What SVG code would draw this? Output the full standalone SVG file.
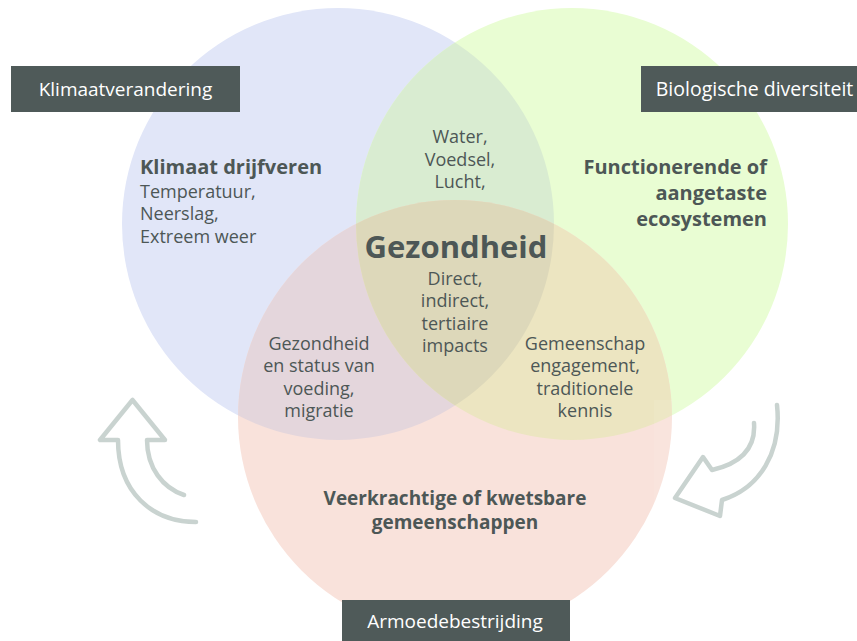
<svg xmlns="http://www.w3.org/2000/svg" width="857" height="641" viewBox="0 0 857 641">
<style>
.t{font-family:"Open Sans","Noto Sans","DejaVu Sans",sans-serif;fill:#4d5756;font-size:18px}
.b{font-weight:bold;font-size:20px}
.bs{font-weight:bold;font-size:19px}
.c{text-anchor:middle}
.r{text-anchor:end}
.box{fill:#4f5a59}
.lbl{font-family:"Open Sans","Noto Sans","DejaVu Sans",sans-serif;fill:#ffffff;font-size:19px;text-anchor:middle}
.arr{fill:none;stroke:#c9d3d0;stroke-width:4.5;stroke-linejoin:round;stroke-linecap:round}
</style>
<defs>
<clipPath id="cB"><circle cx="338" cy="224" r="216"/></clipPath>
<clipPath id="cG"><circle cx="572" cy="224" r="216"/></clipPath>
</defs>
<rect width="857" height="641" fill="#ffffff"/>
<g id="venn">
<circle cx="338" cy="224" r="216" fill="#e1e6f8"/>
<circle cx="572" cy="224" r="216" fill="#e9fdd3"/>
<circle cx="455" cy="417" r="217" fill="#f9e2db"/>
<circle cx="572" cy="224" r="216" fill="#d9ecd1" clip-path="url(#cB)"/>
<circle cx="455" cy="417" r="217" fill="#e4d6dc" clip-path="url(#cB)"/>
<circle cx="455" cy="417" r="217" fill="#ece5c1" clip-path="url(#cG)"/>
<g clip-path="url(#cB)"><circle cx="455" cy="417" r="217" fill="#ddd8ba" clip-path="url(#cG)"/></g>
</g>
<g id="connectors">
<path class="arr" d="M184 495 C163 488 147 468 147 440 L165 440 L132.5 400 L100 440 L118 440 C118 492 152 522 196 522"/>
<rect x="654" y="400" width="136" height="120" fill="#ffffff" opacity="0.08"/>
<path class="arr" d="M777 405 C782 452 760 488 722 500 L720 516 L675 498 L703 457 L712 470 C738 464 756 450 754 423"/>
</g>
<g id="label-klimaatverandering">
<rect class="box" x="11" y="66" width="229" height="46"/>
<text class="lbl" x="125.5" y="96">Klimaatverandering</text>
</g>
<g id="label-biologische-diversiteit">
<rect class="box" x="641" y="66" width="216" height="46"/>
<text class="lbl" x="754.5" y="96" style="font-size:19.5px">Biologische diversiteit</text>
</g>
<g id="label-armoedebestrijding">
<rect class="box" x="342" y="600" width="228" height="41"/>
<text class="lbl" x="455" y="628">Armoedebestrijding</text>
</g>
<g id="node-klimaat">
<text class="t b" x="140" y="174">Klimaat drijfveren</text>
<text class="t" x="140" y="198">Temperatuur,</text>
<text class="t" x="140" y="220">Neerslag,</text>
<text class="t" x="140" y="243">Extreem weer</text>
</g>
<g id="node-biodiversiteit">
<text class="t b r" x="767" y="174">Functionerende of</text>
<text class="t b r" x="767" y="200">aangetaste</text>
<text class="t b r" x="767" y="226">ecosystemen</text>
</g>
<g id="node-klimaat-bio">
<text class="t c" x="460" y="143">Water,</text>
<text class="t c" x="460" y="166">Voedsel,</text>
<text class="t c" x="460" y="188">Lucht,</text>
</g>
<g id="node-gezondheid">
<text class="t c" x="456" y="258" style="font-size:31px;font-weight:bold">Gezondheid</text>
<text class="t c" x="455" y="285">Direct,</text>
<text class="t c" x="455" y="307">indirect,</text>
<text class="t c" x="455" y="330">tertiaire</text>
<text class="t c" x="455" y="352">impacts</text>
</g>
<g id="node-klimaat-armoede">
<text class="t c" x="319" y="350">Gezondheid</text>
<text class="t c" x="319" y="372">en status van</text>
<text class="t c" x="319" y="395">voeding,</text>
<text class="t c" x="319" y="417">migratie</text>
</g>
<g id="node-bio-armoede">
<text class="t c" x="585" y="350">Gemeenschap</text>
<text class="t c" x="585" y="372">engagement,</text>
<text class="t c" x="585" y="395">traditionele</text>
<text class="t c" x="585" y="417">kennis</text>
</g>
<g id="node-armoede">
<text class="t bs c" x="455" y="505">Veerkrachtige of kwetsbare</text>
<text class="t bs c" x="455" y="529">gemeenschappen</text>
</g>
</svg>
